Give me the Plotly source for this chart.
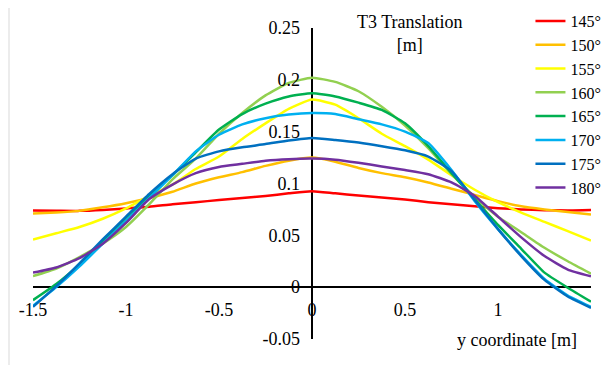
import plotly.graph_objects as go

y_coord = [-1.5, -1.375, -1.25, -1.125, -1.0, -0.875, -0.75, -0.625, -0.5, -0.375, -0.25, -0.125, 0.0,
           0.125, 0.25, 0.375, 0.5, 0.625, 0.75, 0.875, 1.0, 1.125, 1.25, 1.375, 1.5]

s145 = [0.074, 0.0738, 0.0736, 0.0745, 0.0759, 0.0775, 0.080, 0.082, 0.084, 0.086, 0.088, 0.0905, 0.0926,
        0.0905, 0.0885, 0.0865, 0.0845, 0.082, 0.080, 0.078, 0.0762, 0.075, 0.0743, 0.074, 0.0745]
s150 = [0.071, 0.072, 0.0736, 0.077, 0.081, 0.086, 0.092, 0.100, 0.106, 0.111, 0.117, 0.122, 0.125,
        0.121, 0.115, 0.110, 0.106, 0.101, 0.095, 0.089, 0.083, 0.078, 0.075, 0.0725, 0.070]
s155 = [0.046, 0.052, 0.058, 0.066, 0.076, 0.088, 0.099, 0.114, 0.126, 0.143, 0.158, 0.172, 0.181,
        0.176, 0.163, 0.148, 0.136, 0.123, 0.108, 0.094, 0.082, 0.072, 0.063, 0.054, 0.045]
s160 = [0.0106, 0.018, 0.029, 0.042, 0.058, 0.080, 0.104, 0.124, 0.148, 0.168, 0.185, 0.197, 0.202,
        0.198, 0.189, 0.174, 0.156, 0.134, 0.109, 0.087, 0.068, 0.053, 0.038, 0.025, 0.013]
s165 = [-0.0125, 0.003, 0.022, 0.044, 0.067, 0.088, 0.108, 0.130, 0.152, 0.167, 0.177, 0.184, 0.187,
        0.184, 0.178, 0.171, 0.158, 0.136, 0.110, 0.085, 0.060, 0.037, 0.014, -0.0005, -0.014]
s170 = [-0.018, 0.000, 0.020, 0.042, 0.064, 0.086, 0.108, 0.131, 0.147, 0.157, 0.163, 0.1665, 0.168,
        0.167, 0.162, 0.157, 0.150, 0.139, 0.113, 0.083, 0.056, 0.031, 0.008, -0.008, -0.019]
s175 = [-0.019, 0.001, 0.023, 0.046, 0.068, 0.090, 0.109, 0.124, 0.131, 0.135, 0.138, 0.1415, 0.144,
        0.142, 0.1395, 0.136, 0.132, 0.126, 0.112, 0.084, 0.056, 0.030, 0.007, -0.009, -0.020]
s180 = [0.014, 0.019, 0.028, 0.042, 0.062, 0.085, 0.099, 0.110, 0.116, 0.119, 0.122, 0.1235, 0.124,
        0.123, 0.120, 0.1165, 0.113, 0.109, 0.101, 0.088, 0.068, 0.048, 0.030, 0.017, 0.0105]

series_names = ["145°", "150°", "155°", "160°", "165°", "170°", "175°", "180°"]
series_values = [s145, s150, s155, s160, s165, s170, s175, s180]
colors = ["#FF0000", "#FFC000", "#FFFF00", "#92D050", "#00B050", "#00B0F0", "#0070C0", "#7030A0"]

x_ticks = [-1.5, -1, -0.5, 0, 0.5, 1, 1.5]
x_ticktext = ["-1.5", "-1", "-0.5", "0", "0.5", "1", "1.5"]
y_ticks = [-0.05, 0, 0.05, 0.1, 0.15, 0.2, 0.25]
y_ticktext = ["-0.05", "0", "0.05", "0.1", "0.15", "0.2", "0.25"]

FONT = "Liberation Serif"
H = 339.0  # plot-area height in px (top margin 0, bottom margin 26)


def py(p):
    return (339 - p) / H


fig = go.Figure()
for name, vals, col in zip(series_names, series_values, colors):
    fig.add_trace(go.Scatter(x=y_coord, y=vals, name=name, mode="lines",
                             line=dict(color=col, width=2.5, shape="spline", smoothing=0.5)))

fig.update_layout(
    width=602, height=365,
    margin=dict(l=33, r=11, t=0, b=26, autoexpand=False),
    paper_bgcolor="white", plot_bgcolor="white",
    font=dict(family=FONT, size=18, color="black"),
    showlegend=True,
    legend=dict(x=0.8915, y=py(4), xanchor="left", yanchor="top",
                font=dict(family=FONT, size=16), bgcolor="rgba(0,0,0,0)",
                tracegroupgap=0, itemwidth=30),
    xaxis=dict(range=[-1.5, 1.5], tickvals=x_ticks, ticktext=x_ticktext,
               showgrid=False, zeroline=True, zerolinecolor="black", zerolinewidth=1.5,
               showline=False, anchor="free", position=py(287), ticks="", automargin=False,
               ticklabelstandoff=10, tickfont=dict(family=FONT, size=18)),
    yaxis=dict(range=[-0.05, 0.25], domain=[0, py(28)], tickvals=y_ticks, ticktext=y_ticktext,
               showgrid=False, zeroline=True, zerolinecolor="black", zerolinewidth=1.5,
               showline=False, anchor="free", position=0.5, ticks="", automargin=False,
               ticklabelstandoff=12, tickfont=dict(family=FONT, size=18)),
    annotations=[
        dict(text="T3 Translation<br>[m]", xref="paper", yref="paper",
             x=(410 - 33) / 558, y=py(34), xanchor="center", yanchor="middle",
             showarrow=False, font=dict(family=FONT, size=18)),
        dict(text="y coordinate [m]", xref="paper", yref="paper",
             x=(517 - 33) / 558, y=py(340), xanchor="center", yanchor="middle",
             showarrow=False, font=dict(family=FONT, size=18)),
    ],
    shapes=[dict(type="line", xref="paper", yref="paper",
                 x0=(9 - 33) / 558, x1=(9 - 33) / 558,
                 y0=py(8), y1=py(366),
                 line=dict(color="#D9D9D9", width=1))],
)

fig.write_html("out.html", config={"displayModeBar": False},
               post_script="document.body.style.margin='0';document.body.style.overflow='hidden';")
